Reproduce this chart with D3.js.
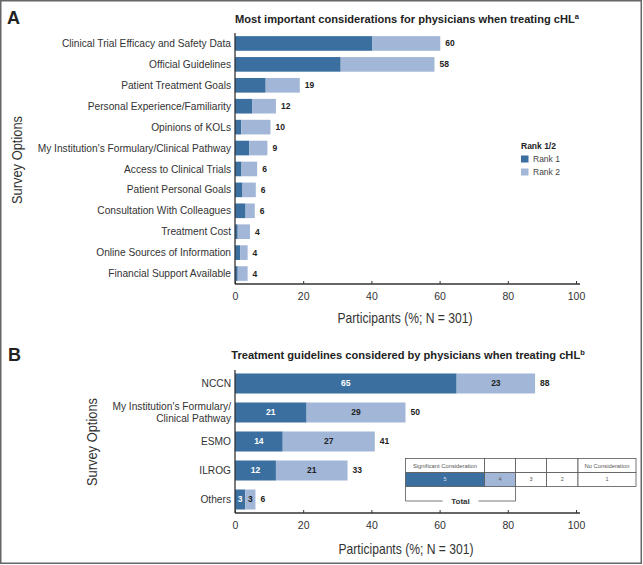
<!DOCTYPE html>
<html><head><meta charset="utf-8">
<script src="https://cdn.jsdelivr.net/npm/d3@7"></script>
<style>body{margin:0;background:#fff}svg{display:block}text{font-family:"Liberation Sans",Arial,sans-serif}</style>
</head><body><svg id="c" width="643" height="565"></svg>
<script>
// Panel A data
const catsA = ["Clinical Trial Efficacy and Safety Data","Official Guidelines","Patient Treatment Goals","Personal Experience/Familiarity","Opinions of KOLs","My Institution's Formulary/Clinical Pathway","Access to Clinical Trials","Patient Personal Goals","Consultation With Colleagues","Treatment Cost","Online Sources of Information","Financial Support Available"];
const rank1A = [40.3,31.0,9.0,5.0,1.8,4.2,1.9,2.2,3.1,0.8,1.5,0.8];
const rank2A = [19.9,27.5,10.0,7.0,8.6,5.3,4.6,3.9,2.7,3.6,2.2,2.9];
const totalLabelsA = ["60","58","19","12","10","9","6","6","6","4","4","4"];
// Panel B data
const catsB = ["NCCN","My Institution's Formulary/|Clinical Pathway","ESMO","ILROG","Others"];
const sig5B = [65,21,14,12,3];
const sig4B = [23,29,27,21,3];
const totalB = [88,50,41,33,6];
const ticks = [0,20,40,60,80,100];
const legendA = ["Rank 1","Rank 2"];
const tableHeader = ["Significant Consideration","","","","No Consideration"];
const tableScale = ["5","4","3","2","1"];

const DARK = "#3a6f9f", LIGHT = "#a2b7d7", AX = "#333", TXT = "#333";
const svg = d3.select("#c");

svg.append("rect").attr("x",0.75).attr("y",0.75).attr("width",640.5).attr("height",562.5)
  .attr("fill","none").attr("stroke","#666").attr("stroke-width",1.5);

const x = d3.scaleLinear().domain([0,100]).range([235,576]);

function drawAxis(yAxis, yTop){
  const g = svg.append("g").attr("transform",`translate(0,${yAxis})`)
    .call(d3.axisBottom(x).tickValues(ticks).tickSizeInner(-3).tickSizeOuter(0).tickPadding(9));
  g.select(".domain").attr("stroke",AX).attr("stroke-width",1.3).attr("d",`M${x(0)},0H${x(100)+4}`);
  g.selectAll(".tick line").attr("stroke",AX);
  g.selectAll(".tick text").attr("font-size",10.5).attr("fill",TXT);
  svg.append("line").attr("x1",x(0)).attr("x2",x(0)).attr("y1",yTop).attr("y2",yAxis)
    .attr("stroke",AX).attr("stroke-width",1.3);
}

// ---------- Panel A ----------
svg.append("text").attr("x",7).attr("y",24).attr("font-size",18).attr("font-weight","bold").attr("fill","#222").text("A");
const tA = svg.append("text").attr("x",407).attr("y",23).attr("text-anchor","middle").attr("font-size",11.1).attr("font-weight","bold").attr("fill","#222");
tA.append("tspan").text("Most important considerations for physicians when treating cHL");
tA.append("tspan").attr("font-size",7.5).attr("dy",-4).text("a");

const yA = d3.scaleBand().domain(catsA).range([33,284]).paddingInner(0.3).paddingOuter(0.15);
const gA = svg.append("g");
catsA.forEach((c,i)=>{
  const y0 = yA(c), h = yA.bandwidth();
  gA.append("rect").attr("x",x(0)).attr("y",y0).attr("width",x(rank1A[i])-x(0)).attr("height",h).attr("fill",DARK);
  gA.append("rect").attr("x",x(rank1A[i])).attr("y",y0).attr("width",x(rank1A[i]+rank2A[i])-x(rank1A[i])).attr("height",h).attr("fill",LIGHT);
  gA.append("text").attr("x",x(rank1A[i]+rank2A[i])+5).attr("y",y0+h/2).attr("dy","0.35em")
    .attr("font-size",8.5).attr("font-weight","bold").attr("fill","#222").text(totalLabelsA[i]);
  gA.append("text").attr("x",231).attr("y",y0+h/2).attr("dy","0.35em").attr("text-anchor","end")
    .attr("font-size",10.2).attr("fill",TXT).text(c);
});
drawAxis(284,33);
svg.append("text").attr("transform","translate(22,160) rotate(-90)").attr("text-anchor","middle")
  .attr("font-size",14).attr("fill",TXT).attr("textLength",88).attr("lengthAdjust","spacingAndGlyphs").text("Survey Options");
svg.append("text").attr("x",405).attr("y",323).attr("text-anchor","middle")
  .attr("font-size",14.5).attr("fill",TXT).attr("textLength",135).attr("lengthAdjust","spacingAndGlyphs").text("Participants (%; N = 301)");

// legend A
svg.append("text").attr("x",521).attr("y",149).attr("font-size",8.5).attr("font-weight","bold").attr("fill","#222").text("Rank 1/2");
legendA.forEach((l,i)=>{
  svg.append("rect").attr("x",521).attr("y",155.5+i*13).attr("width",7.5).attr("height",7).attr("fill",i?LIGHT:DARK);
  svg.append("text").attr("x",533).attr("y",159+i*13).attr("dy","0.35em").attr("font-size",8.5).attr("fill","#444").text(l);
});

// ---------- Panel B ----------
svg.append("text").attr("x",8).attr("y",361).attr("font-size",18).attr("font-weight","bold").attr("fill","#222").text("B");
const tB = svg.append("text").attr("x",408).attr("y",359).attr("text-anchor","middle").attr("font-size",11.1).attr("font-weight","bold").attr("fill","#222");
tB.append("tspan").text("Treatment guidelines considered by physicians when treating cHL");
tB.append("tspan").attr("font-size",7.5).attr("dy",-4).text("b");

const yB = d3.scaleBand().domain(catsB).range([370,513]).paddingInner(0.31).paddingOuter(0.12);
catsB.forEach((c,i)=>{
  const y0 = yB(c), h = yB.bandwidth(), cy = y0+h/2;
  svg.append("rect").attr("x",x(0)).attr("y",y0).attr("width",x(sig5B[i])-x(0)).attr("height",h).attr("fill",DARK);
  svg.append("rect").attr("x",x(sig5B[i])).attr("y",y0).attr("width",x(sig5B[i]+sig4B[i])-x(sig5B[i])).attr("height",h).attr("fill",LIGHT);
  svg.append("text").attr("x",(x(0)+x(sig5B[i]))/2).attr("y",cy).attr("dy","0.35em").attr("text-anchor","middle")
    .attr("font-size",8.5).attr("font-weight","bold").attr("fill","#fff").text(sig5B[i]);
  svg.append("text").attr("x",(x(sig5B[i])+x(sig5B[i]+sig4B[i]))/2).attr("y",cy).attr("dy","0.35em").attr("text-anchor","middle")
    .attr("font-size",8.5).attr("font-weight","bold").attr("fill","#222").text(sig4B[i]);
  svg.append("text").attr("x",x(sig5B[i]+sig4B[i])+5).attr("y",cy).attr("dy","0.35em")
    .attr("font-size",8.5).attr("font-weight","bold").attr("fill","#222").text(totalB[i]);
  const lines = c.split("|");
  lines.forEach((ln,j)=>{
    svg.append("text").attr("x",231).attr("y",cy + (j-(lines.length-1)/2)*11.5).attr("dy","0.35em").attr("text-anchor","end")
      .attr("font-size",10.2).attr("fill",TXT).text(ln);
  });
});
drawAxis(513,370);
svg.append("text").attr("transform","translate(97,442) rotate(-90)").attr("text-anchor","middle")
  .attr("font-size",14).attr("fill",TXT).attr("textLength",88).attr("lengthAdjust","spacingAndGlyphs").text("Survey Options");
svg.append("text").attr("x",406).attr("y",554).attr("text-anchor","middle")
  .attr("font-size",14.5).attr("fill",TXT).attr("textLength",135).attr("lengthAdjust","spacingAndGlyphs").text("Participants (%; N = 301)");

// inset table
const colX = [405.5,484.5,515.5,546.5,578,636];
const rowY = [458.5,472.5,486.5,501];
const tg = svg.append("g");
tableScale.forEach((s,i)=>{
  const fill = i===0?DARK:(i===1?LIGHT:"#fff");
  tg.append("rect").attr("x",colX[i]).attr("y",rowY[1]).attr("width",colX[i+1]-colX[i]).attr("height",rowY[2]-rowY[1])
    .attr("fill",fill).attr("stroke","#555").attr("stroke-width",0.8);
  tg.append("rect").attr("x",colX[i]).attr("y",rowY[0]).attr("width",colX[i+1]-colX[i]).attr("height",rowY[1]-rowY[0])
    .attr("fill","#fff").attr("stroke","#555").attr("stroke-width",0.8);
  tg.append("text").attr("x",(colX[i]+colX[i+1])/2).attr("y",(rowY[1]+rowY[2])/2).attr("dy","0.35em").attr("text-anchor","middle")
    .attr("font-size",5.5).attr("fill",i===0?"#dde":"#555").text(s);
  if(tableHeader[i]) tg.append("text").attr("x",(colX[i]+colX[i+1])/2).attr("y",(rowY[0]+rowY[1])/2).attr("dy","0.35em").attr("text-anchor","middle")
    .attr("font-size",5.8).attr("fill","#555").text(tableHeader[i]);
});
const midT = (colX[0]+colX[2])/2;
tg.append("path").attr("d",`M${colX[0]},${rowY[2]}V${rowY[3]}H${midT-18}M${midT+18},${rowY[3]}H${colX[2]}V${rowY[2]}`)
  .attr("fill","none").attr("stroke","#555").attr("stroke-width",0.8);
tg.append("text").attr("x",midT).attr("y",rowY[3]).attr("dy","0.35em").attr("text-anchor","middle")
  .attr("font-size",8).attr("font-weight","bold").attr("fill","#333").text("Total");
</script></body></html>
